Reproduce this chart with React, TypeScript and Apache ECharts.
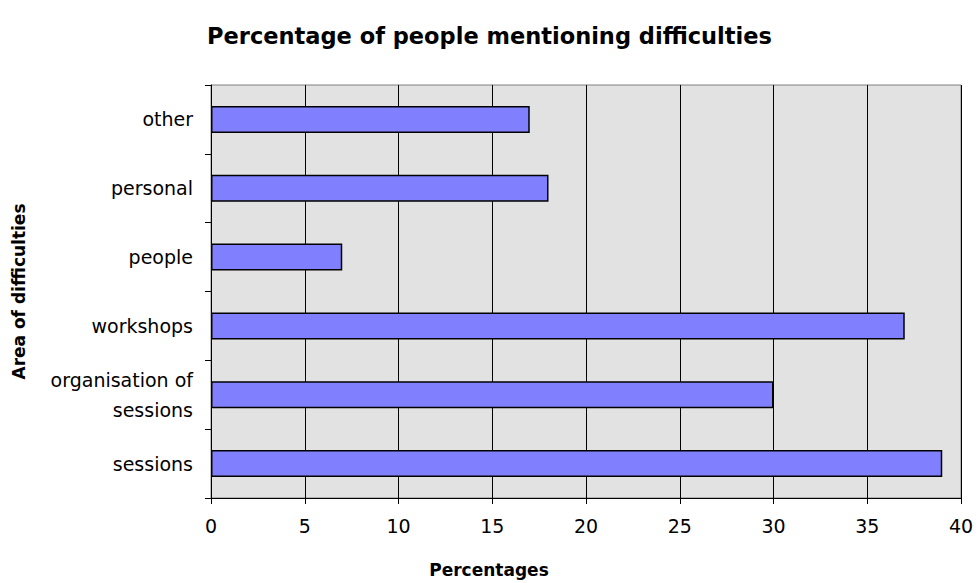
import React, { useEffect, useRef } from "react";
import * as echarts from "echarts";

// Bottom-to-top order of the category axis
const categories = [
  "sessions",
  "organisation of\nsessions",
  "workshops",
  "people",
  "personal",
  "other",
];
const percentages = [39, 30, 37, 7, 18, 17];
const xTicks = { min: 0, max: 40, interval: 5 };

const FONT = "DejaVu Sans, Verdana, sans-serif";

export default function App() {
  const ref = useRef<HTMLDivElement>(null);

  useEffect(() => {
    if (!ref.current) return;
    const chart = echarts.init(ref.current, undefined, { renderer: "svg" });
    chart.setOption({
      animation: false,
      backgroundColor: "#ffffff",
      title: {
        text: "Percentage of people mentioning difficulties",
        left: "center",
        top: 19,
        textStyle: { fontFamily: FONT, fontSize: 22.5, fontWeight: "bold", color: "#000" },
      },
      grid: {
        left: 211,
        top: 85,
        right: 18,
        bottom: 84,
        show: true,
        backgroundColor: "#e2e2e2",
        borderColor: "#808080",
        borderWidth: 1,
      },
      xAxis: {
        type: "value",
        min: xTicks.min,
        max: xTicks.max,
        interval: xTicks.interval,
        name: "Percentages",
        nameLocation: "middle",
        nameGap: 63,
        // right padding pulls the centred title toward the middle of the chart
        nameTextStyle: {
          fontFamily: FONT,
          fontSize: 17,
          fontWeight: "bold",
          color: "#000",
          padding: [0, 194, 0, 0],
        },
        axisLine: { show: true, lineStyle: { color: "#000", width: 1 } },
        axisTick: { show: true, length: 6, lineStyle: { color: "#000" } },
        axisLabel: { fontFamily: FONT, fontSize: 19, color: "#000", margin: 18 },
        splitLine: { show: true, lineStyle: { color: "#000", width: 1 } },
      },
      yAxis: {
        type: "category",
        data: categories,
        name: "Area of difficulties",
        nameLocation: "middle",
        nameGap: 184,
        nameTextStyle: { fontFamily: FONT, fontSize: 17, fontWeight: "bold", color: "#000" },
        axisLine: { show: true, lineStyle: { color: "#000", width: 1 } },
        axisTick: { show: true, length: 6, lineStyle: { color: "#000" } },
        axisLabel: {
          fontFamily: FONT,
          fontSize: 19,
          color: "#000",
          margin: 18,
          lineHeight: 30,
          align: "right",
        },
        splitLine: { show: false },
      },
      series: [
        {
          type: "bar",
          data: percentages,
          barWidth: 27,
          itemStyle: { color: "#8080ff", borderColor: "#000", borderWidth: 1.5 },
        },
      ],
    });
    return () => chart.dispose();
  }, []);

  return (
    <div
      ref={ref}
      style={{ position: "absolute", left: 0, top: 0, width: 979, height: 583 }}
    />
  );
}
